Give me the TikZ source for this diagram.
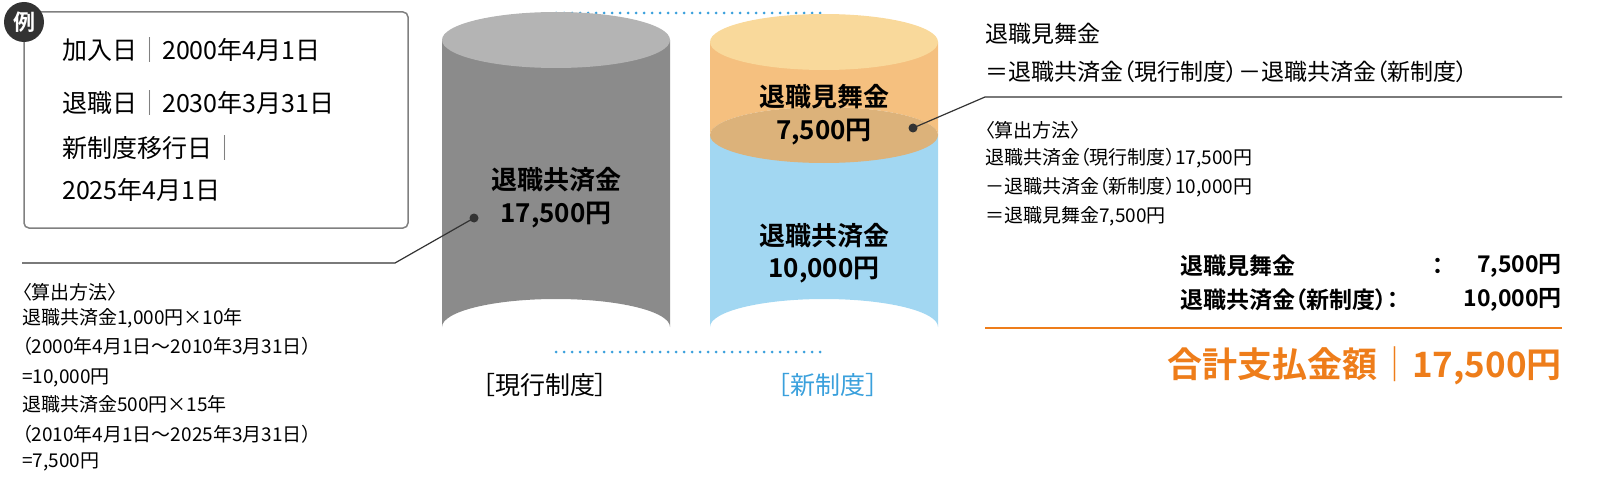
\documentclass[tikz,border=0pt]{standalone}
\usepackage{fontspec}
\setmainfont{Noto Sans CJK JP}[BoldFont={Noto Sans CJK JP Bold},RawFeature=+palt]
\definecolor{darkgraycol}{RGB}{51,51,51}
\definecolor{graytop}{RGB}{180,180,180}
\definecolor{graybody}{RGB}{139,139,139}
\definecolor{orangetop}{RGB}{249,217,155}
\definecolor{orangebody}{RGB}{245,192,127}
\definecolor{orangemid}{RGB}{220,178,122}
\definecolor{bluebody}{RGB}{162,215,242}
\definecolor{dotblue}{RGB}{58,160,220}
\definecolor{sumorange}{RGB}{238,125,26}
\begin{document}
\begin{tikzpicture}[x=1pt,y=-1pt
	,boxtext/.style={anchor=west,font=\fontsize{25}{25}\selectfont,inner sep=0pt}
	,note/.style={anchor=west,font=\fontsize{19}{19}\selectfont,inner sep=0pt}
	,sidetext/.style={anchor=west,font=\fontsize{23}{23}\selectfont,inner sep=0pt}
	,cyltext/.style={font=\bfseries\fontsize{26}{26}\selectfont,inner sep=0pt}
	,leader/.style={color=darkgraycol,line width=1.2pt}
	]
	\useasboundingbox (0,0) rectangle (1600,484);
	% example box
	\draw[color=gray,line width=1.5pt,rounded corners=5pt] (24,12) rectangle (408,228);
	\fill[darkgraycol] (24,22) circle (20);
	\node[color=white,font=\bfseries\fontsize{22}{22}\selectfont] (badge) at (24,22) {例};
	\node[boxtext] (join) at (62,50) {加入日{\color{gray}｜}2000年4月1日};
	\node[boxtext] (retire) at (62,103) {退職日{\color{gray}｜}2030年3月31日};
	\node[boxtext] (move) at (62,148) {新制度移行日{\color{gray}｜}};
	\node[boxtext] (movedate) at (62,190) {2025年4月1日};
	% dotted guides
	\draw[dotblue,line width=3pt,line cap=round,dash pattern=on 0pt off 8pt] (556,13) -- (824,13);
	\draw[dotblue,line width=3pt,line cap=round,dash pattern=on 0pt off 8pt] (556,352) -- (824,352);
	% current cylinder
	\fill[graybody] (442,40) -- (442,327) arc (180:360:114 and 28) -- (670,40) -- cycle;
	\fill[graytop] (556,40) ellipse (114 and 28);
	% new cylinder
	\fill[bluebody] (710,135) -- (710,327) arc (180:360:114 and 28) -- (938,135) -- cycle;
	\fill[orangebody] (710,42) -- (710,135) arc (180:360:114 and 28) -- (938,42) -- cycle;
	\fill[orangemid] (824,135) ellipse (114 and 28);
	\fill[orangetop] (824,42) ellipse (114 and 28);
	\node[cyltext] (oldname) at (556,180) {退職共済金};
	\node[cyltext] (oldval) at (556,215) {17,500円};
	\node[cyltext] (giftname) at (824,97) {退職見舞金};
	\node[cyltext] (giftval) at (824,132) {7,500円};
	\node[cyltext] (newname) at (824,236) {退職共済金};
	\node[cyltext] (newval) at (824,270) {10,000円};
	\node[font=\fontsize{25}{25}\selectfont] (oldlabel) at (545,385) {［現行制度］};
	\node[font=\fontsize{25}{25}\selectfont,color=dotblue] (newlabel) at (828,385) {［新制度］};
	% left leader and note
	\coordinate (ldot) at (474,218);
	\coordinate (lbend) at (395,263);
	\coordinate (lend) at (22,263);
	\fill[darkgraycol] (ldot) circle (4.5);
	\draw[leader] (ldot) -- (lbend) -- (lend);
	\node[note] (lcalc) at (22,292) {〈算出方法〉};
	\node[note] (l1) at (22,318) {退職共済金1,000円×10年};
	\node[note] (l2) at (22,346) {（2000年4月1日～2010年3月31日）};
	\node[note] (l3) at (22,378) {=10,000円};
	\node[note] (l4) at (22,404) {退職共済金500円×15年};
	\node[note] (l5) at (22,434) {（2010年4月1日～2025年3月31日）};
	\node[note] (l6) at (22,462) {=7,500円};
	% right leader and note
	\coordinate (rdot) at (913,128);
	\coordinate (rbend) at (985,97);
	\coordinate (rend) at (1562,97);
	\fill[darkgraycol] (rdot) circle (4.5);
	\draw[leader] (rdot) -- (rbend) -- (rend);
	\node[sidetext] (rtitle) at (985,34) {退職見舞金};
	\node[sidetext] (rformula) at (985,72) {＝退職共済金（現行制度）－退職共済金（新制度）};
	\node[note] (rcalc) at (985,130) {〈算出方法〉};
	\node[note] (r1) at (985,158) {退職共済金（現行制度）17,500円};
	\node[note] (r2) at (985,187) {－退職共済金（新制度）10,000円};
	\node[note] (r3) at (985,216) {＝退職見舞金7,500円};
	% summary
	\node[sidetext,font=\bfseries\fontsize{23}{23}\selectfont] (s1) at (1180,266) {退職見舞金};
	\node[sidetext,font=\bfseries\fontsize{23}{23}\selectfont] (s1c) at (1432,266) {：};
	\node[anchor=east,inner sep=0pt,font=\bfseries\fontsize{23}{23}\selectfont] (s1v) at (1562,266) {7,500円};
	\node[sidetext,font=\bfseries\fontsize{23}{23}\selectfont] (s2) at (1180,300) {退職共済金（新制度）：};
	\node[anchor=east,inner sep=0pt,font=\bfseries\fontsize{23}{23}\selectfont] (s2v) at (1562,300) {10,000円};
	\draw[sumorange,line width=1.5pt] (985,328) -- (1562,328);
	\node[anchor=east,inner sep=0pt,color=sumorange,font=\bfseries\fontsize{35}{35}\selectfont] (total) at (1562,366) {合計支払金額{\mdseries｜}17,500円};
\end{tikzpicture}
\end{document}
